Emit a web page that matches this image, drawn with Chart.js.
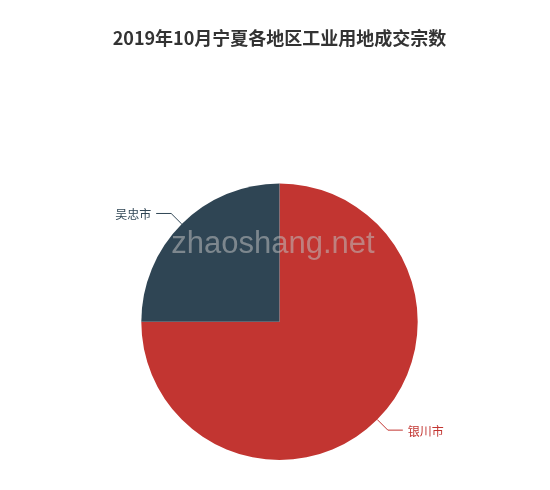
<!DOCTYPE html>
<html>
<head>
<meta charset="utf-8">
<script src="https://cdn.jsdelivr.net/npm/chart.js@4"></script>
<style>
  html, body { margin: 0; padding: 0; background: #fff; }
  #wrap { width: 550px; height: 490px; }
</style>
</head>
<body>
<div id="wrap"><canvas id="pieChart" width="550" height="490"></canvas></div>
<script>
(function () {
  "use strict";

  var regions = ["银川市", "吴忠市"];
  var deals = [3, 1];
  var sliceColors = ["#c23531", "#2f4554"];

  var FONT = "'Noto Sans CJK SC', 'Microsoft YaHei', sans-serif";

  // leader lines + labels drawn like echarts pie labels
  var pieLabels = {
    id: "pieLabels",
    afterDatasetsDraw: function (chart) {
      var ctx = chart.ctx;
      var meta = chart.getDatasetMeta(0);
      ctx.save();
      meta.data.forEach(function (arc, i) {
        var p = arc.getProps(["x", "y", "outerRadius", "startAngle", "endAngle"], true);
        var mid = (p.startAngle + p.endAngle) / 2;
        var cos = Math.cos(mid), sin = Math.sin(mid);
        var x0 = p.x + cos * p.outerRadius;
        var y0 = p.y + sin * p.outerRadius;
        var x1 = p.x + cos * (p.outerRadius + 15);
        var y1 = p.y + sin * (p.outerRadius + 15);
        var dir = cos >= 0 ? 1 : -1;
        var x2 = x1 + dir * 15;
        ctx.strokeStyle = sliceColors[i];
        ctx.lineWidth = 1;
        ctx.beginPath();
        ctx.moveTo(x0, y0);
        ctx.lineTo(x1, y1);
        ctx.lineTo(x2, y1);
        ctx.stroke();
        ctx.fillStyle = sliceColors[i];
        ctx.font = "12px " + FONT;
        ctx.textBaseline = "middle";
        ctx.textAlign = dir > 0 ? "left" : "right";
        ctx.fillText(regions[i], x2 + dir * 5, y1 + 1);
      });
      // watermark
      ctx.font = "31px 'Liberation Sans', Arial, sans-serif";
      ctx.fillStyle = "rgba(190, 190, 190, 0.55)";
      ctx.textAlign = "center";
      ctx.textBaseline = "alphabetic";
      ctx.fillText("zhaoshang.net", 273, 253);
      ctx.restore();
    }
  };

  new Chart(document.getElementById("pieChart").getContext("2d"), {
    type: "pie",
    data: {
      labels: regions,
      datasets: [
        {
          data: deals,
          backgroundColor: sliceColors,
          borderWidth: 0,
          hoverOffset: 0
        }
      ]
    },
    options: {
      responsive: false,
      animation: false,
      rotation: 0,
      layout: {
        padding: { left: 9, right: 0, top: 0, bottom: 30 }
      },
      plugins: {
        legend: { display: false },
        tooltip: { enabled: false },
        title: {
          display: true,
          text: "2019年10月宁夏各地区工业用地成交宗数",
          color: "#333",
          font: { size: 18, weight: "bold", family: FONT },
          padding: { top: 27, bottom: 135 }
        }
      }
    },
    plugins: [pieLabels]
  });
})();
</script>
</body>
</html>
